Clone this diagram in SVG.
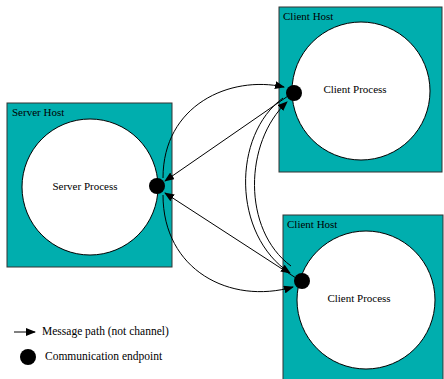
<svg xmlns="http://www.w3.org/2000/svg" width="444" height="379" viewBox="0 0 444 379">
<style>
.host{fill:#00AEAE;stroke:#333;stroke-width:1}
.proc{fill:#fff;stroke:#000;stroke-width:1}
.ep{fill:#000}
.lbl{font-family:"Liberation Serif",serif;font-size:11px;fill:#000}
.leg{font-size:11.5px}
.c{fill:none;stroke:#000;stroke-width:1}
</style>
<defs>
<marker id="ah" markerUnits="userSpaceOnUse" markerWidth="10" markerHeight="8" refX="9" refY="4" orient="auto">
<path d="M0,0 L10,4 L0,8 z" fill="#000"/>
</marker>
</defs>
<rect x="0" y="0" width="444" height="379" fill="#fff"/>
<g id="server-host">
<rect class="host" x="7" y="103" width="165" height="164"/>
<text class="lbl" x="12" y="116">Server Host</text>
<circle class="proc" cx="90" cy="187" r="68"/>
<text class="lbl" x="85" y="190" text-anchor="middle">Server Process</text>
</g>
<g id="client-host-top">
<rect class="host" x="279" y="7" width="163" height="165"/>
<text class="lbl" x="283" y="20">Client Host</text>
<circle class="proc" cx="361" cy="91" r="69"/>
<text class="lbl" x="355" y="93" text-anchor="middle">Client Process</text>
</g>
<g id="client-host-bottom">
<rect class="host" x="283" y="215" width="160" height="170"/>
<text class="lbl" x="287" y="228">Client Host</text>
<circle class="proc" cx="366" cy="300" r="69"/>
<text class="lbl" x="359" y="302" text-anchor="middle">Client Process</text>
</g>
<g id="connectors">
<path class="c" d="M163,178 C163,105 230,75 284,87" marker-end="url(#ah)"/>
<path class="c" d="M163,195 C163,270 230,305 293,287" marker-end="url(#ah)"/>
<path class="c" d="M288,96 L165,181" marker-end="url(#ah)"/>
<path class="c" d="M296,278 L165,193" marker-end="url(#ah)"/>
<path class="c" d="M291,266 C242,230 244,142 287,102" marker-end="url(#ah)"/>
<path class="c" d="M283,98 C232,135 232,235 290,273" marker-end="url(#ah)"/>
</g>
<g id="endpoints">
<circle class="ep" cx="157" cy="186" r="8"/>
<circle class="ep" cx="294" cy="93" r="8"/>
<circle class="ep" cx="302" cy="281" r="8"/>
</g>
<g id="legend">
<path class="c" d="M14,332 L35,332" marker-end="url(#ah)"/>
<text class="lbl leg" x="42" y="335">Message path (not channel)</text>
<circle class="ep" cx="28" cy="357" r="8"/>
<text class="lbl leg" x="45" y="360">Communication endpoint</text>
</g>
</svg>
